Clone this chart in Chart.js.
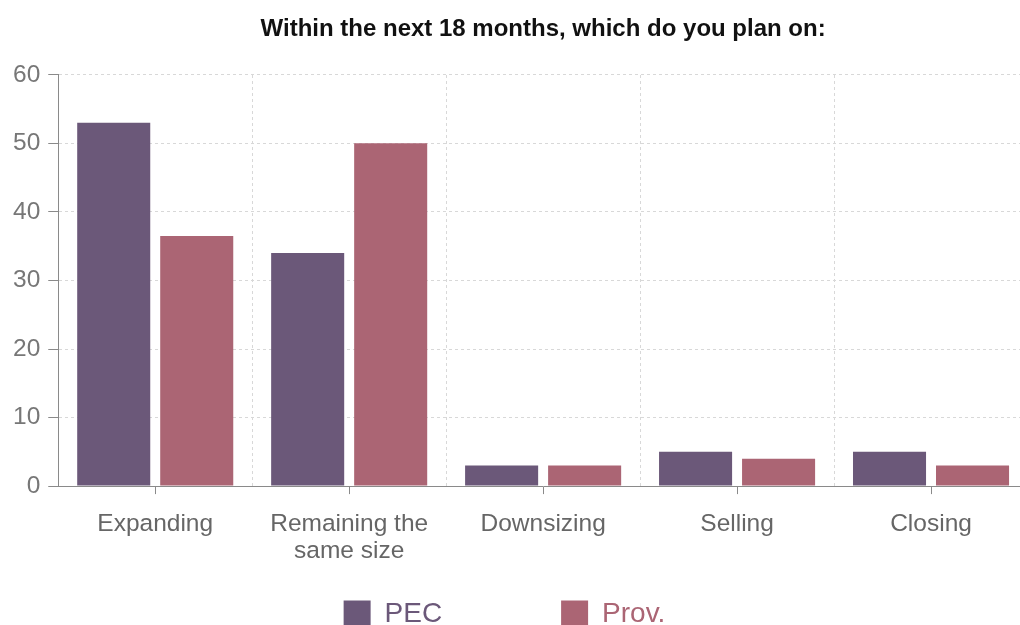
<!DOCTYPE html>
<html>
<head>
<meta charset="utf-8">
<title>Within the next 18 months</title>
<script src="https://cdn.jsdelivr.net/npm/chart.js@4/dist/chart.umd.min.js"></script>
<style>
  html, body { margin: 0; padding: 0; background: #fff; overflow: hidden; }
  #wrap { width: 1020px; height: 625px; overflow: hidden; }
</style>
</head>
<body>
<div id="wrap">
  <canvas id="plans-chart" width="1090" height="638"></canvas>
</div>
<script>
"use strict";

var categories = [
  "Expanding",
  ["Remaining the", "same size"],
  "Downsizing",
  "Selling",
  "Closing"
];
var pecValues = [53, 34, 3, 5, 5];
var provValues = [36.5, 50, 3, 4, 3];
var yTicks = [0, 10, 20, 30, 40, 50, 60];

var pecColor = "#6b5879";
var provColor = "#ab6574";
var gridColor = "#d8d8d8";
var axisColor = "#8a8a8a";
var fontFamily = "'Liberation Sans', Arial, sans-serif";

// legend sits a little left of the centre line
var legendShift = {
  id: "legendShift",
  afterLayout: function(chart) {
    chart.legend.left -= 12;
    chart.legend.right -= 12;
  }
};

function legendLabels(chart) {
  return chart.data.datasets.map(function(ds, i) {
    // wide gap after the first entry
    var text = i === 0 ? ds.label + " ".repeat(14) : ds.label;
    return {
      text: text,
      fillStyle: ds.backgroundColor,
      strokeStyle: ds.backgroundColor,
      lineWidth: 0,
      fontColor: ds.backgroundColor,
      hidden: !chart.isDatasetVisible(i),
      datasetIndex: i
    };
  });
}

function renderPlansChart() {
  var ctx = document.getElementById("plans-chart").getContext("2d");
  new Chart(ctx, {
    type: "bar",
    data: {
      labels: categories,
      datasets: [
        {
          label: "PEC",
          data: pecValues,
          backgroundColor: pecColor,
          categoryPercentage: 0.856,
          barPercentage: 0.88
        },
        {
          label: "Prov.",
          data: provValues,
          backgroundColor: provColor,
          categoryPercentage: 0.856,
          barPercentage: 0.88
        }
      ]
    },
    options: {
      responsive: false,
      animation: false,
      layout: { padding: { left: 5, right: 62, top: 0, bottom: 0 } },
      plugins: {
        tooltip: { enabled: false },
        title: {
          display: true,
          fullSize: false,
          text: "Within the next 18 months, which do you plan on:",
          color: "#111",
          font: { family: fontFamily, size: 24, weight: "bold" },
          padding: { top: 15, bottom: 31 }
        },
        legend: {
          position: "bottom",
          labels: {
            boxWidth: 27,
            boxHeight: 27,
            padding: 10,
            font: { family: fontFamily, size: 28 },
            generateLabels: legendLabels
          }
        }
      },
      scales: {
        x: {
          offset: true,
          border: { display: true, color: axisColor, width: 1 },
          grid: {
            offset: false,
            drawOnChartArea: false,
            tickLength: 8,
            tickColor: axisColor
          },
          ticks: {
            color: "#666",
            padding: 17,
            font: { family: fontFamily, size: 24.5, lineHeight: 1.1 }
          },
          afterFit: function(axis) {
            axis.height += 8;
          }
        },
        x2: {
          type: "category",
          labels: categories,
          position: "top",
          offset: true,
          border: { display: false, dash: [3, 3] },
          grid: {
            offset: true,
            drawTicks: false,
            color: gridColor
          },
          ticks: { display: false }
        },
        y: {
          min: 0,
          max: 60,
          afterBuildTicks: function(axis) {
            axis.ticks = yTicks.map(function(v) { return { value: v }; });
          },
          border: { display: true, color: axisColor, width: 1, dash: [3, 3] },
          grid: {
            color: gridColor,
            tickLength: 10,
            tickColor: axisColor,
            tickBorderDash: []
          },
          ticks: {
            color: "#777",
            padding: 8,
            font: { family: fontFamily, size: 24.5 }
          }
        }
      }
    },
    plugins: [legendShift]
  });
}

renderPlansChart();
</script>
</body>
</html>
